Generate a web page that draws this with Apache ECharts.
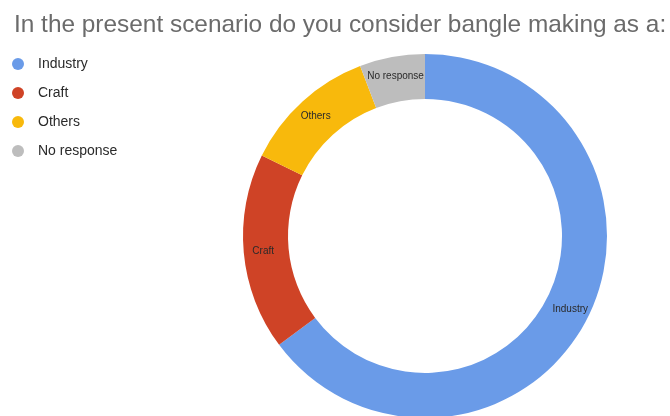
<!DOCTYPE html>
<html>
<head>
<meta charset="utf-8">
<script src="https://cdn.jsdelivr.net/npm/echarts@6/dist/echarts.min.js"></script>
<style>html,body{margin:0;padding:0;background:#fff;}#c{width:670px;height:416px;}</style>
</head>
<body>
<div id="c"></div>
<script>
const titleText = "In the present scenario do you consider bangle making as a:";
const categories = ["Industry", "Craft", "Others", "No response"];
const values = [64.8, 17.5, 11.9, 5.8];
const colors = ["#6a9be8", "#cf4326", "#f8b90c", "#bdbdbd"];

const chart = echarts.init(document.getElementById('c'), null, {renderer: 'canvas'});
chart.setOption({
  animation: false,
  backgroundColor: '#ffffff',
  title: {
    text: titleText,
    left: 9,
    top: 8,
    textStyle: {fontFamily: 'Liberation Sans, Arial, sans-serif', fontSize: 24.4, fontWeight: 'normal', color: '#6b6b6b'}
  },
  legend: {
    orient: 'vertical',
    left: 7,
    top: 52,
    icon: 'circle',
    itemWidth: 12,
    itemHeight: 12,
    itemGap: 15,
    data: categories,
    textStyle: {fontFamily: 'Liberation Sans, Arial, sans-serif', fontSize: 14, color: '#2a2a2a', padding: [0, 0, 0, 9]}
  },
  series: [{
    type: 'pie',
    center: [425, 236],
    radius: [137, 182],
    startAngle: 90,
    clockwise: true,
    avoidLabelOverlap: false,
    label: {
      show: true,
      position: 'inside',
      formatter: '{b}',
      fontFamily: 'Liberation Sans, Arial, sans-serif',
      fontSize: 10,
      color: '#2a2a2a'
    },
    labelLine: {show: false},
    itemStyle: {borderWidth: 0},
    emphasis: {disabled: true},
    data: categories.map((n, i) => ({name: n, value: values[i], itemStyle: {color: colors[i]}}))
  }]
});
</script>
</body>
</html>
